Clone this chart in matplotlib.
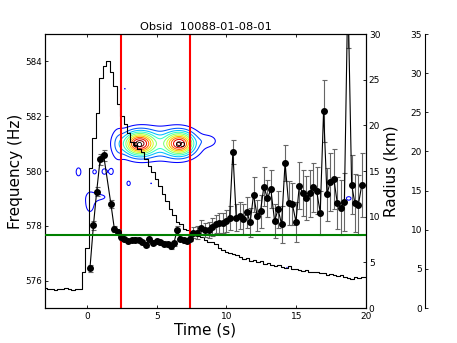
import numpy as np
import matplotlib
matplotlib.use("Agg")
import matplotlib.pyplot as plt
from matplotlib.colors import Normalize

# ======================================
# DATA
# ======================================

# light curve (scaled onto the frequency axis), 0.25 s bins from -3 s
lc_t0 = -3.0
lc_dt = 0.25
lc_vals = [
    575.72, 575.68, 575.70, 575.66, 575.71, 575.69, 575.73, 575.70, 575.67, 575.71, 575.68,
    576.30, 577.20, 580.10, 581.20, 582.10, 583.40, 583.85, 584.00, 583.60, 583.10,
    582.45, 582.00, 581.70, 581.40, 581.05, 580.95, 580.80, 580.70, 580.45, 580.20,
    579.95, 579.70, 579.45, 579.15, 578.90, 578.60, 578.40, 578.15, 578.05, 577.90,
    577.85, 577.78, 577.72, 577.62, 577.58, 577.50, 577.42, 577.40, 577.34, 577.20,
    577.12, 577.05, 577.02, 576.98, 576.95, 576.85, 576.80, 576.82, 576.72, 576.75,
    576.68, 576.70, 576.62, 576.64, 576.58, 576.55, 576.57, 576.50, 576.45, 576.52,
    576.44, 576.42, 576.38, 576.36, 576.40, 576.33, 576.30, 576.32, 576.26, 576.28,
    576.22, 576.24, 576.20, 576.17, 576.20, 576.12, 576.08, 576.05, 576.12, 576.10,
    576.14, 576.12,
]

# radius estimates
rad_t = [
    0.22, 0.47, 0.70, 0.95, 1.20, 1.72, 1.97, 2.21, 2.45, 2.69, 2.94, 3.20, 3.46,
    3.71, 3.95, 4.22, 4.47, 4.73, 4.99, 5.25, 5.52, 5.78, 6.03, 6.23, 6.46, 6.70,
    6.94, 7.15, 7.38, 7.63, 7.90, 8.17, 8.45, 8.73, 9.00, 9.25, 9.50, 9.74, 9.98,
    10.22, 10.46, 10.70, 10.94, 11.20, 11.46, 11.70, 11.94, 12.20, 12.44, 12.68,
    12.94, 13.18, 13.45, 13.70, 13.95, 14.20, 14.45, 14.72, 14.98, 15.22, 15.46,
    15.70, 15.96, 16.22, 16.46, 16.72, 16.96, 17.20, 17.44, 17.70, 17.94, 18.20,
    18.45, 18.70, 18.97, 19.20, 19.45, 19.70,
]
rad_r = [
    4.35, 9.06, 12.74, 16.30, 16.75, 11.40, 8.65, 8.36, 7.75, 7.56, 7.34, 7.45, 7.50,
    7.45, 7.23, 6.94, 7.60, 7.16, 7.34, 7.20, 7.05, 6.97, 6.75, 7.08, 8.50, 7.56,
    7.41, 7.37, 7.60, 8.25, 8.25, 8.80, 8.54, 8.54, 8.90, 9.20, 9.27, 9.27, 9.53,
    9.82, 17.10, 9.90, 10.10, 9.75, 10.50, 9.38, 12.40, 10.10, 10.60, 13.30,
    12.00, 13.00, 9.53, 10.80, 9.17, 15.90, 11.50, 11.40, 9.45, 13.40, 12.60,
    12.05, 12.55, 13.20, 12.85, 10.44, 21.60, 12.45, 13.80, 14.10, 11.50, 11.00,
    11.60, 35.00, 13.50, 11.50, 11.30, 13.50,
]
rad_err = [
    0.40, 0.50, 0.50, 0.60, 0.60, 0.40, 0.35, 0.30, 0.30, 0.25, 0.25, 0.25, 0.25,
    0.25, 0.25, 0.25, 0.50, 0.25, 0.25, 0.25, 0.25, 0.25, 0.25, 0.25, 0.50, 0.25,
    0.25, 0.25, 0.30, 0.60, 0.70, 0.80, 0.80, 0.90, 1.00, 1.00, 1.10, 1.10, 1.20,
    1.30, 1.30, 1.50, 1.50, 1.60, 1.70, 1.60, 1.90, 1.70, 1.80, 2.10,
    2.00, 2.10, 1.90, 2.00, 2.00, 2.00, 2.40, 2.30, 2.20, 2.60, 2.50,
    2.40, 2.60, 2.70, 2.60, 2.40, 3.40, 2.90, 3.20, 3.30, 2.80, 3.00,
    3.20, 6.50, 3.20, 3.20, 3.30, 3.50,
]

# power map features (time s, freq Hz, amplitude, width in t, width in f)
blob_t = [3.75, 6.65, 5.20, 8.70, 2.20, -0.60, 0.55, 1.25, 1.75, 0.22, 1.00, 2.99, 4.60, 2.72, 14.33, 18.76]
blob_f = [581.0, 581.0, 581.0, 581.1, 580.95, 579.97, 579.97, 579.98, 579.98, 578.85, 579.05, 579.55, 579.55, 583.0, 576.47, 579.0]
blob_a = [1.0, 0.95, 0.28, 0.12, 0.11, 0.13, 0.13, 0.13, 0.13, 0.13, 0.11, 0.13, 0.10, 0.10, 0.10, 0.13]
blob_st = [0.72, 0.68, 1.90, 0.45, 0.30, 0.21, 0.15, 0.20, 0.15, 0.37, 0.50, 0.15, 0.05, 0.05, 0.06, 0.21]
blob_sf = [0.28, 0.28, 0.40, 0.15, 0.45, 0.18, 0.09, 0.12, 0.12, 0.41, 0.12, 0.10, 0.05, 0.05, 0.05, 0.08]

peak_t = [3.47, 3.76, 6.50, 6.82]
peak_f = [581.0, 581.0, 581.0, 581.0]

red_lines = [2.46, 7.37]
radius_ref = 8.0

# ======================================
# FIGURE
# ======================================

fig = plt.figure(figsize=(4.57, 3.43), dpi=100)
ax = fig.add_axes([0.0985, 0.102, 0.7024, 0.7988])
ax2 = ax.twinx()
ax3 = fig.add_axes([0.930, 0.102, 0.02, 0.7988])

# power contours
tg = np.linspace(-3, 20, 700)
fg = np.linspace(575, 585, 500)
T, F = np.meshgrid(tg, fg)
P = np.zeros_like(T)
for bt, bf, ba, bst, bsf in zip(blob_t, blob_f, blob_a, blob_st, blob_sf):
    P += ba * np.exp(-0.5 * ((T - bt) / bst) ** 2 - 0.5 * ((F - bf) / bsf) ** 2)

lev_lo, lev_hi = 0.095, 1.13
levels = np.linspace(lev_lo, lev_hi, 10)
ax.contour(T, F, P, levels=levels, cmap="jet",
           norm=Normalize(vmin=lev_lo - 0.13 * (lev_hi - lev_lo), vmax=lev_hi),
           linewidths=0.75)
ax.plot(peak_t, peak_f, "o", mfc="none", mec="k", ms=3, mew=0.6)

# light curve
lc_t = lc_t0 + lc_dt * np.arange(len(lc_vals))
ax.step(lc_t, lc_vals, where="mid", color="k", lw=0.8)

for x in red_lines:
    ax.axvline(x, color="red", lw=1.5)

ax.set_xlim(-3, 20)
ax.set_ylim(575, 585)
ax.set_xticks([0, 5, 10, 15, 20])
ax.set_yticks([576, 578, 580, 582, 584])
ax.tick_params(direction="in", top=True, right=False, length=2.5, width=0.6)
ax.tick_params(axis="y", labelsize=6.3, pad=2)
ax.tick_params(axis="x", labelsize=6.5, pad=3)
ax.set_xlabel("Time (s)", fontsize=11, labelpad=1)
ax.set_ylabel("Frequency (Hz)", fontsize=11, labelpad=2)
ax.set_title("Obsid  10088-01-08-01", fontsize=8.2, pad=3)

# radius
ax2.errorbar(rad_t, rad_r, yerr=rad_err, fmt="-o", color="k", ms=4, lw=0.8,
             ecolor="0.4", elinewidth=0.8, capsize=1.8, capthick=0.8)
ax2.axhline(radius_ref, color="green", lw=1.5, zorder=5)
ax2.set_ylim(0, 30)
ax2.set_yticks(range(0, 35, 5))
ax2.tick_params(direction="in", length=2.5, width=0.6, labelsize=6.5, pad=2)
ax2.set_ylabel("Radius (km)", fontsize=11, labelpad=2)

for a in (ax, ax2):
    for s in a.spines.values():
        s.set_linewidth(0.8)

# extra scale on the far right
ax3.patch.set_visible(False)
for side in ["right", "top", "bottom"]:
    ax3.spines[side].set_visible(False)
ax3.spines["left"].set_linewidth(0.8)
ax3.set_xticks([])
ax3.set_ylim(0, 35)
ax3.set_yticks(range(0, 40, 5))
ax3.tick_params(direction="in", length=2.5, width=0.6, labelsize=6.5, pad=2)

fig.savefig("out.png", dpi=100)
